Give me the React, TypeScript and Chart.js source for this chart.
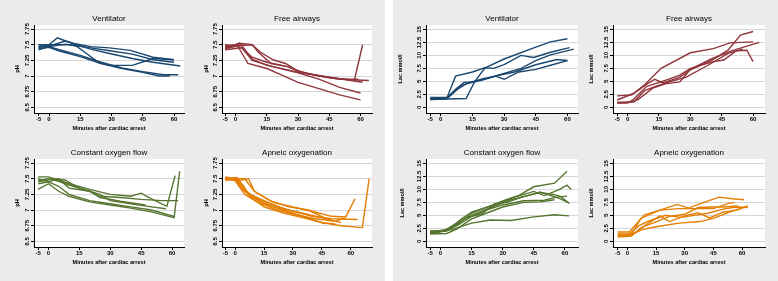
import React, { useEffect, useRef } from "react";
import { Chart, registerables } from "chart.js";

Chart.register(...registerables);

type Pt = [number, number];

const FONT = '"Liberation Sans", Arial, sans-serif';

const minuteTicks = [-5, 0, 15, 30, 45, 60];
const phTicks = [6.5, 6.75, 7, 7.25, 7.5, 7.75];
const phTickLabels = ["6.5", "6.75", "7", "7.25", "7.5", "7.75"];
const lacTicks = [0, 2.5, 5, 7.5, 10, 12.5, 15];
const lacTickLabels = ["0", "2.5", "5", "7.5", "10", "12.5", "15"];

const groupTitles = ["Ventilator", "Free airways", "Constant oxygen flow", "Apneic oxygenation"];
const groupColors = ["#1a476f", "#90353b", "#55752f", "#e37e00"];

// pH (minutes, pH) per animal
const ventilatorPH: Pt[][] = [
  [[-5, 7.45], [0, 7.5], [4, 7.61], [8, 7.56], [12, 7.52], [20, 7.47], [29, 7.45], [39, 7.41], [50, 7.3], [60, 7.26]],
  [[-5, 7.47], [0, 7.48], [8, 7.56], [13, 7.5], [20, 7.43], [29, 7.36], [40, 7.28], [50, 7.22], [63, 7.16]],
  [[-5, 7.42], [0, 7.47], [8, 7.51], [13, 7.48], [18, 7.36], [24, 7.21], [29, 7.17], [40, 7.17], [50, 7.28], [60, 7.26]],
  [[-5, 7.48], [0, 7.47], [5, 7.42], [15, 7.33], [25, 7.22], [35, 7.13], [45, 7.07], [55, 7.02], [62, 7.02]],
  [[-5, 7.44], [0, 7.46], [5, 7.4], [15, 7.31], [25, 7.2], [35, 7.12], [45, 7.06], [53, 7.0], [58, 7.0]],
  [[-5, 7.5], [0, 7.5], [10, 7.5], [20, 7.45], [30, 7.4], [40, 7.35], [50, 7.26], [60, 7.22]],
];

const freeAirwaysPH: Pt[][] = [
  [[-5, 7.45], [0, 7.5], [3, 7.52], [8, 7.5], [11, 7.38], [17, 7.2], [25, 7.15], [32, 7.05], [45, 6.98], [52, 6.95], [57, 6.93], [61, 7.5]],
  [[-5, 7.42], [0, 7.44], [3, 7.45], [8, 7.3], [15, 7.22], [25, 7.15], [33, 7.05], [45, 6.97], [55, 6.94], [64, 6.93]],
  [[-5, 7.48], [0, 7.5], [2, 7.53], [8, 7.27], [15, 7.17], [30, 7.06], [45, 6.98], [61, 6.9]],
  [[-5, 7.44], [1, 7.48], [6, 7.2], [15, 7.12], [22, 7.02], [30, 6.9], [40, 6.8], [50, 6.7], [60, 6.62]],
  [[-5, 7.5], [0, 7.48], [3, 7.45], [8, 7.25], [18, 7.15], [30, 7.05], [40, 6.95], [50, 6.82], [60, 6.73]],
  [[-5, 7.47], [8, 7.5], [12, 7.38], [18, 7.26], [24, 7.2], [30, 7.08], [40, 7.0], [50, 6.95], [59, 6.95]],
];

const constantFlowPH: Pt[][] = [
  [[-5, 7.53], [0, 7.53], [5, 7.48], [10, 7.42], [20, 7.33], [30, 7.25], [40, 7.22], [45, 7.27], [50, 7.18], [57.5, 7.06], [61.5, 7.55]],
  [[-5, 7.47], [0, 7.5], [5, 7.46], [10, 7.4], [20, 7.3], [25, 7.22], [35, 7.2], [45, 7.17], [55, 7.15], [63, 7.15]],
  [[-5, 7.42], [0, 7.45], [5, 7.5], [10, 7.35], [20, 7.3], [25, 7.2], [35, 7.14], [47, 7.08]],
  [[-5, 7.33], [0, 7.42], [5, 7.3], [10, 7.22], [20, 7.13], [30, 7.08], [40, 7.03], [50, 6.97], [61, 6.88], [63.7, 7.62]],
  [[-5, 7.5], [0, 7.45], [5, 7.38], [10, 7.25], [20, 7.15], [30, 7.1], [40, 7.05], [50, 7.0], [61, 6.9]],
  [[-5, 7.45], [3, 7.5], [8, 7.48], [15, 7.35], [25, 7.25], [30, 7.15], [40, 7.1], [50, 7.05], [57, 7.02]],
];

const apneicPH: Pt[][] = [
  [[-5, 7.52], [0, 7.5], [5, 7.5], [10, 7.3], [20, 7.12], [30, 7.05], [40, 6.98], [50, 6.9], [57.4, 6.89], [62.2, 7.18]],
  [[-5, 7.48], [0, 7.52], [5, 7.3], [10, 7.2], [20, 7.08], [30, 6.98], [40, 6.9], [50, 6.86], [63.5, 6.85]],
  [[-5, 7.5], [0, 7.5], [3, 7.35], [8, 7.22], [15, 7.1], [25, 7.0], [35, 6.9], [45, 6.8], [55, 6.75], [66, 6.72], [69.5, 7.5]],
  [[-5, 7.47], [1, 7.52], [6, 7.3], [12, 7.15], [20, 7.05], [30, 6.95], [40, 6.85], [47, 6.78]],
  [[-5, 7.5], [2, 7.47], [7, 7.5], [10, 7.3], [18, 7.15], [28, 7.05], [38, 7.0], [48, 6.85], [55, 6.8]],
  [[-5, 7.49], [0, 7.47], [5, 7.25], [12, 7.12], [22, 7.0], [32, 6.92], [42, 6.86], [52, 6.82], [57, 6.87]],
  [[-5, 7.53], [0, 7.5], [4, 7.4], [8, 7.2], [15, 7.05], [25, 6.95], [35, 6.88], [45, 6.8], [52, 6.78]],
  [[-5, 7.51], [2, 7.48], [6, 7.28], [15, 7.15], [25, 7.02], [35, 6.95], [45, 6.88], [50, 6.84]],
];

// Lactate (minutes, mmol/l) per animal
const ventilatorLac: Pt[][] = [
  [[-5, 1.9], [3, 1.9], [7, 6.0], [15, 6.8], [22, 7.8], [30, 9.3], [45, 11.6], [52, 12.6], [60, 13.2]],
  [[-5, 1.5], [3, 1.6], [12, 1.7], [16, 4.9], [21, 7.6], [25, 7.5], [30, 8.2], [38, 10.0], [44, 9.6], [52, 10.6], [61, 11.5]],
  [[-5, 1.5], [3, 1.7], [8, 3.5], [12, 4.5], [20, 5.3], [30, 6.5], [38, 7.5], [45, 9.0], [52, 10.1], [63, 11.2]],
  [[-5, 1.6], [3, 1.8], [7, 3.4], [11, 4.8], [16, 4.9], [26, 6.0], [30, 5.4], [37, 6.8], [45, 7.3], [52, 8.1], [60, 9.0]],
  [[-5, 1.7], [3, 1.9], [8, 3.8], [13, 4.7], [20, 5.5], [28, 6.2], [35, 6.8], [45, 8.2], [55, 9.2], [60, 9.0]],
];

const freeAirwaysLac: Pt[][] = [
  [[-5, 2.2], [2, 2.4], [8, 4.3], [16, 7.5], [30, 10.5], [41, 11.3], [49, 12.4], [60, 12.6]],
  [[-5, 1.4], [3, 2.7], [9, 4.4], [13, 5.4], [17, 4.7], [25, 5.8], [30, 7.2], [40, 9.0], [48, 11.0], [54, 13.9], [60, 14.6]],
  [[-5, 0.8], [0, 0.8], [3, 1.6], [9, 4.0], [18, 5.2], [25, 6.2], [30, 7.5], [41, 8.8], [46, 9.1], [52, 10.9], [57, 11.0], [60, 8.8]],
  [[-5, 0.8], [2, 1.1], [5, 1.5], [12, 3.7], [18, 4.5], [25, 4.9], [30, 7.3], [40, 9.3], [50, 10.9], [63, 12.5]],
  [[-5, 1.0], [3, 1.0], [8, 3.2], [14, 4.1], [20, 4.9], [28, 5.8], [38, 8.0], [48, 10.4], [55, 11.2]],
];

const constantFlowLac: Pt[][] = [
  [[-5, 1.8], [3, 2.0], [8, 3.2], [15, 5.4], [22, 6.5], [30, 7.8], [38, 8.9], [45, 10.5], [55, 11.2], [61, 13.5]],
  [[-5, 1.5], [3, 2.0], [10, 4.3], [15, 5.6], [20, 6.3], [28, 7.3], [35, 8.4], [45, 9.6], [50, 8.8], [57, 9.9], [61, 10.8], [63, 10.0]],
  [[-5, 1.6], [0, 2.0], [5, 2.5], [12, 4.5], [20, 5.3], [26, 7.2], [32, 7.5], [40, 8.6], [48, 9.4], [55, 9.0], [58, 8.6], [62, 7.3]],
  [[-5, 1.9], [3, 2.2], [8, 3.0], [15, 4.8], [22, 6.0], [30, 7.0], [40, 7.8], [50, 7.9], [56, 8.5], [61, 8.7]],
  [[-5, 1.4], [3, 1.5], [8, 2.4], [15, 4.3], [22, 5.4], [30, 6.6], [40, 7.5], [48, 7.6], [55, 8.0]],
  [[-5, 1.7], [0, 1.9], [5, 2.2], [15, 3.5], [24, 4.1], [34, 4.0], [45, 4.7], [55, 5.1], [62, 4.9]],
  [[-5, 2.0], [2, 2.1], [9, 3.8], [15, 5.0], [25, 6.6], [33, 7.9], [42, 8.8], [48, 9.5], [57, 8.3], [62, 7.4]],
];

const apneicLac: Pt[][] = [
  [[-5, 1.8], [1, 1.8], [9, 5.1], [17, 6.0], [26, 7.1], [32, 6.4], [40, 7.5], [48, 8.5], [55, 8.2], [61, 8.0]],
  [[-5, 1.1], [2, 1.2], [7, 4.4], [17, 6.0], [27, 6.3], [36, 6.3], [45, 6.3], [53, 7.3], [56, 7.5]],
  [[-5, 0.8], [2, 1.0], [9, 3.0], [17, 4.9], [22, 3.8], [30, 4.9], [37, 5.5], [43, 4.5], [50, 5.6], [57, 6.0], [63, 6.8]],
  [[-5, 1.2], [2, 1.3], [8, 2.3], [15, 2.8], [27, 3.5], [38, 3.8], [45, 4.4], [54, 5.7], [59, 6.3]],
  [[-5, 1.4], [1, 1.4], [6, 3.0], [12, 4.0], [20, 5.0], [28, 4.6], [35, 5.0], [42, 5.4], [50, 6.2], [57, 6.6], [63, 6.5]],
  [[-5, 1.0], [2, 1.1], [8, 2.8], [14, 3.6], [22, 4.8], [30, 5.2], [37, 6.5], [45, 6.6], [50, 6.6], [58, 6.8]],
];

type PanelCfg = {
  title: string;
  color: string;
  series: Pt[][];
  L: number; R: number; T: number; B: number;
  xMin: number; xMax: number;
  yMin: number; yMax: number;
  yTicks: number[]; yLabels: string[];
  yTitle: string; yTitleGap: number;
};

const AXW = 36;
const TOPPAD = 20;
const RIGHTPAD = 4;
const BOTPAD = 22;

const PH_MIN = 6.41, PH_MAX = 7.815;
const LAC_MIN = -1.1, LAC_MAX = 15.85;

const panels: PanelCfg[] = [
  { title: groupTitles[0], color: groupColors[0], series: ventilatorPH, L: 34, R: 184, T: 25, B: 113, xMin: -7.2, xMax: 64.8, yMin: PH_MIN, yMax: PH_MAX, yTicks: phTicks, yLabels: phTickLabels, yTitle: "pH", yTitleGap: 17 },
  { title: groupTitles[1], color: groupColors[1], series: freeAirwaysPH, L: 222, R: 372, T: 25, B: 113, xMin: -6.5, xMax: 65.5, yMin: PH_MIN, yMax: PH_MAX, yTicks: phTicks, yLabels: phTickLabels, yTitle: "pH", yTitleGap: 16 },
  { title: groupTitles[2], color: groupColors[2], series: constantFlowPH, L: 34, R: 184, T: 159, B: 247, xMin: -7, xMax: 65.8, yMin: PH_MIN, yMax: PH_MAX, yTicks: phTicks, yLabels: phTickLabels, yTitle: "pH", yTitleGap: 17 },
  { title: groupTitles[3], color: groupColors[3], series: apneicPH, L: 222, R: 372, T: 159, B: 247, xMin: -6.8, xMax: 71, yMin: PH_MIN, yMax: PH_MAX, yTicks: phTicks, yLabels: phTickLabels, yTitle: "pH", yTitleGap: 16 },
  { title: groupTitles[0], color: groupColors[0], series: ventilatorLac, L: 426, R: 578, T: 25, B: 113, xMin: -7, xMax: 65, yMin: LAC_MIN, yMax: LAC_MAX, yTicks: lacTicks, yLabels: lacTickLabels, yTitle: "Lac mmol/l", yTitleGap: 26 },
  { title: groupTitles[1], color: groupColors[1], series: freeAirwaysLac, L: 613, R: 765, T: 25, B: 113, xMin: -7, xMax: 65.7, yMin: LAC_MIN, yMax: LAC_MAX, yTicks: lacTicks, yLabels: lacTickLabels, yTitle: "Lac mmol/l", yTitleGap: 22 },
  { title: groupTitles[2], color: groupColors[2], series: constantFlowLac, L: 426, R: 578, T: 159, B: 247, xMin: -7, xMax: 66.3, yMin: LAC_MIN, yMax: LAC_MAX, yTicks: lacTicks, yLabels: lacTickLabels, yTitle: "Lac mmol/l", yTitleGap: 24 },
  { title: groupTitles[3], color: groupColors[3], series: apneicLac, L: 613, R: 765, T: 159, B: 247, xMin: -7.5, xMax: 72, yMin: LAC_MIN, yMax: LAC_MAX, yTicks: lacTicks, yLabels: lacTickLabels, yTitle: "Lac mmol/l", yTitleGap: 22 },
];

function Panel({ p }: { p: PanelCfg }) {
  const ref = useRef<HTMLCanvasElement | null>(null);
  const left = p.L - AXW;
  const top = p.T - TOPPAD;
  const width = p.R + RIGHTPAD - left;
  const height = p.B + BOTPAD - top;

  useEffect(() => {
    if (!ref.current) return;
    const decor = {
      id: "stataDecor",
      beforeDraw(chart: any) {
        const { ctx, chartArea: ca } = chart;
        ctx.save();
        ctx.fillStyle = "#ffffff";
        ctx.fillRect(ca.left, ca.top, ca.right - ca.left, ca.bottom - ca.top);
        ctx.restore();
      },
      afterDraw(chart: any) {
        const { ctx, chartArea: ca } = chart;
        const ys = chart.scales.y;
        ctx.save();
        ctx.fillStyle = "#000";
        ctx.font = `8px ${FONT}`;
        ctx.textAlign = "center";
        ctx.textBaseline = "middle";
        ctx.fillText(p.title, (ca.left + ca.right) / 2, ca.top - 6.5);
        ctx.font = `bold 6px ${FONT}`;
        p.yTicks.forEach((v, i) => {
          const y = ys.getPixelForValue(v);
          ctx.save();
          ctx.translate(ca.left - 7, y);
          ctx.rotate(-Math.PI / 2);
          ctx.fillText(p.yLabels[i], 0, 0);
          ctx.restore();
        });
        ctx.restore();
      },
    };
    const chart = new Chart(ref.current, {
      type: "line",
      data: {
        datasets: p.series.map((s) => ({
          data: s as any,
          borderColor: p.color,
          backgroundColor: p.color,
          borderWidth: 1.4,
          pointRadius: 0,
          fill: false,
          tension: 0,
        })),
      },
      options: {
        animation: false,
        responsive: false,
        devicePixelRatio: 1,
        events: [],
        layout: { padding: { top: TOPPAD, right: RIGHTPAD, left: 0, bottom: 0 } },
        plugins: { legend: { display: false }, tooltip: { enabled: false }, title: { display: false } },
        scales: {
          x: {
            type: "linear",
            min: p.xMin,
            max: p.xMax,
            afterBuildTicks: (s: any) => {
              s.ticks = minuteTicks.map((v) => ({ value: v }));
            },
            afterFit: (s: any) => {
              s.height = BOTPAD;
              s.paddingLeft = 0;
              s.paddingRight = 0;
            },
            ticks: {
              autoSkip: false,
              maxRotation: 0,
              minRotation: 0,
              padding: 0,
              color: "#000",
              font: { family: FONT, size: 6, weight: "bold" },
              callback: (v: any) => String(v),
            },
            grid: { drawOnChartArea: false, drawTicks: true, tickLength: 3, tickColor: "#000", tickWidth: 1 },
            border: { display: true, color: "#000", width: 1 },
            title: {
              display: true,
              text: "Minutes after cardiac arrest",
              color: "#000",
              font: { family: FONT, size: 5.6, weight: "bold" },
              padding: { top: 0, bottom: 3.6 },
            },
          },
          y: {
            type: "linear",
            min: p.yMin,
            max: p.yMax,
            afterBuildTicks: (s: any) => {
              s.ticks = p.yTicks.map((v) => ({ value: v }));
            },
            afterFit: (s: any) => {
              s.width = AXW;
              s.paddingTop = 0;
              s.paddingBottom = 0;
            },
            ticks: { display: false },
            grid: { drawOnChartArea: true, drawTicks: true, tickLength: 3, color: "#d6d6d6", tickColor: "#000", lineWidth: 1, tickWidth: 1 },
            border: { display: true, color: "#000", width: 1 },
            title: {
              display: true,
              text: p.yTitle,
              color: "#000",
              font: { family: FONT, size: 5.6, weight: "bold" },
              padding: { top: AXW - p.yTitleGap - 3.4, bottom: 0 },
            },
          },
        },
      } as any,
      plugins: [decor],
    });
    return () => chart.destroy();
  }, []);

  return (
    <canvas
      ref={ref}
      width={width}
      height={height}
      style={{ position: "absolute", left, top, width, height }}
    />
  );
}

export default function App() {
  return (
    <div style={{ position: "fixed", left: 0, top: 0, width: 778, height: 281, background: "#ffffff", overflow: "hidden" }}>
      <div style={{ position: "absolute", left: 0, top: 0, width: 385, height: 281, background: "#ebebeb" }} />
      <div style={{ position: "absolute", left: 393, top: 0, width: 385, height: 281, background: "#ebebeb" }} />
      {panels.map((p, i) => (
        <Panel key={i} p={p} />
      ))}
    </div>
  );
}
